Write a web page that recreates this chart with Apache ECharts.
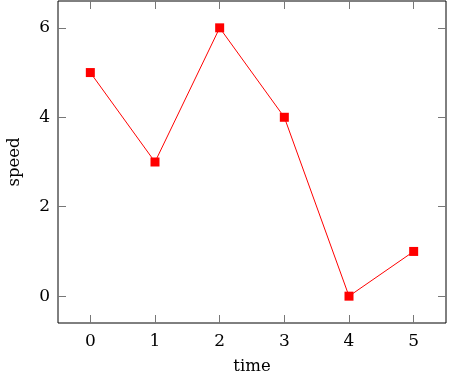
<!DOCTYPE html>
<html><head><meta charset="utf-8">
<script src="https://cdn.jsdelivr.net/npm/echarts@6/dist/echarts.min.js"></script>
<style>html,body{margin:0;padding:0;background:#fff}#c{width:451px;height:379px}</style>
</head><body><div id="c"></div>
<script>
var categories = ['0','1','2','3','4','5'];
var speed = [5, 3, 6, 4, 0, 1];
var yTicks = [0, 2, 4, 6];

var font = 'DejaVu Serif';
var tickStyle = {show:true, inside:true, length:8, lineStyle:{color:'#777', width:1}};
var chart = echarts.init(document.getElementById('c'));
chart.setOption({
  animation:false,
  grid:{left:58, right:5, top:1, bottom:56, outerBoundsMode:'none', containLabel:false,
        show:true, borderColor:'#000', borderWidth:1, backgroundColor:'transparent'},
  xAxis:[{
    type:'category', data:categories, boundaryGap:true, position:'bottom',
    name:'time', nameLocation:'middle', nameGap:35,
    nameTextStyle:{fontFamily:font, fontSize:16.5, color:'#000'},
    axisLine:{show:false, onZero:false},
    axisTick:Object.assign({alignWithLabel:true}, tickStyle),
    axisLabel:{fontFamily:font, fontSize:17, color:'#000', margin:10},
    splitLine:{show:false}
  },{
    type:'category', data:categories, boundaryGap:true, position:'top',
    axisLine:{show:false, onZero:false},
    axisTick:Object.assign({alignWithLabel:true}, tickStyle),
    axisLabel:{show:false}, splitLine:{show:false}
  }],
  yAxis:[{
    type:'value', min:-0.6, max:6.6, position:'left',
    name:'speed', nameLocation:'middle', nameGap:35,
    nameTextStyle:{fontFamily:font, fontSize:16.5, color:'#000'},
    axisLine:{show:false, onZero:false},
    axisTick:Object.assign({customValues:yTicks}, tickStyle),
    axisLabel:{customValues:yTicks, fontFamily:font, fontSize:17, color:'#000', margin:8},
    splitLine:{show:false}
  },{
    type:'value', min:-0.6, max:6.6, position:'right',
    axisLine:{show:false, onZero:false},
    axisTick:Object.assign({customValues:yTicks}, tickStyle),
    axisLabel:{show:false}, splitLine:{show:false}
  }],
  series:[{
    type:'line', data:speed, xAxisIndex:0, yAxisIndex:0,
    symbol:'rect', symbolSize:9, showAllSymbol:true,
    lineStyle:{color:'#ff0000', width:1},
    itemStyle:{color:'#ff0000'}
  }]
});
</script></body></html>
